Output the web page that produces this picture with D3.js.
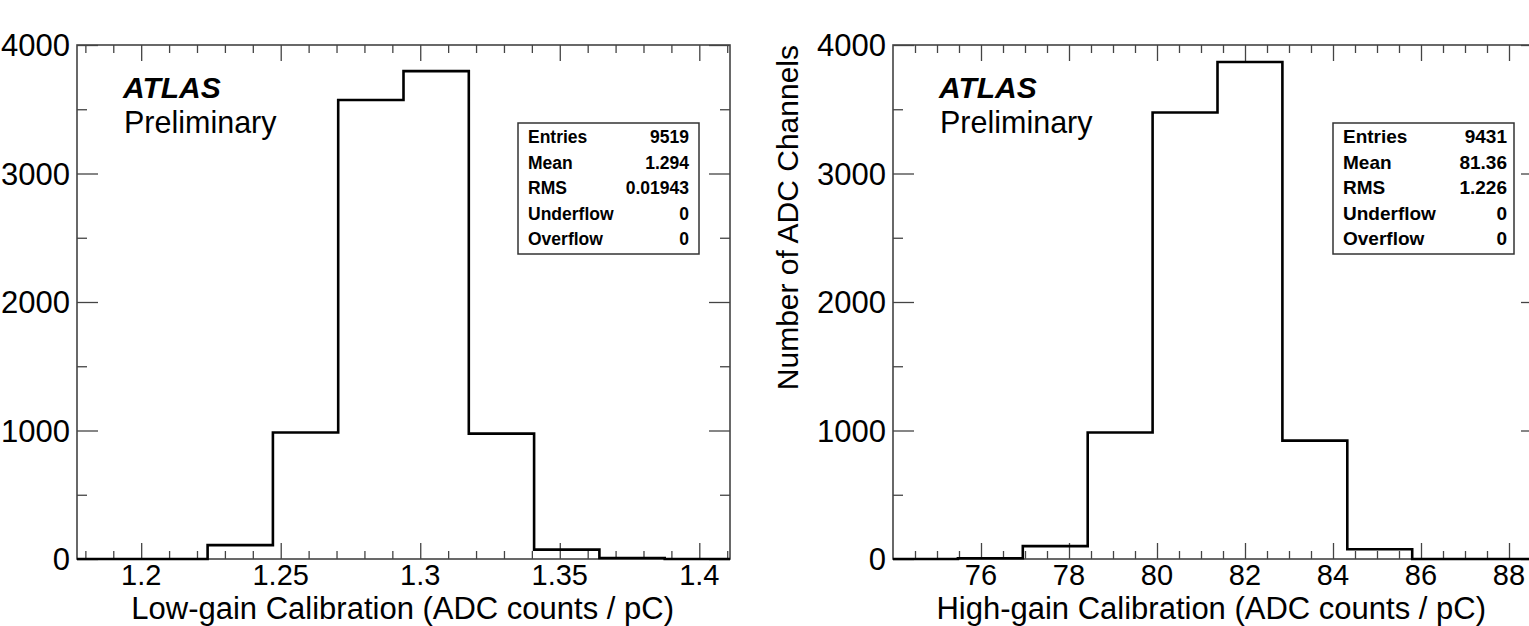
<!DOCTYPE html>
<html>
<head>
<meta charset="utf-8">
<script src="https://cdn.jsdelivr.net/npm/d3@7"></script>
<style>
  html, body { margin: 0; padding: 0; background: #fff; overflow: hidden; }
  svg { display: block; }
  text { font-family: "Liberation Sans", Arial, Helvetica, sans-serif; fill: #000; }
</style>
</head>
<body>
<svg id="chart" width="1529" height="626"></svg>
<script>
// ---------------- data ----------------
const lowRange = [1.177, 1.411];           // histogram range (10 bins)
const lowCounts = [0, 0, 108, 985, 3572, 3797, 976, 73, 8, 0];
const lowMajorTicks = [1.2, 1.25, 1.3, 1.35, 1.4];
const lowTickLabels = ["1.2", "1.25", "1.3", "1.35", "1.4"];
const lowTitle = "Low-gain Calibration (ADC counts / pC)";
const lowStats = [["Entries", "9519"], ["Mean", "1.294"], ["RMS", "0.01943"], ["Underflow", "0"], ["Overflow", "0"]];

const highRange = [74, 88.75];
const highCounts = [0, 6, 100, 985, 3475, 3868, 921, 76, 0, 0];
const highMajorTicks = [76, 78, 80, 82, 84, 86, 88];
const highTickLabels = ["76", "78", "80", "82", "84", "86", "88"];
const highTitle = "High-gain Calibration (ADC counts / pC)";
const highStats = [["Entries", "9431"], ["Mean", "81.36"], ["RMS", "1.226"], ["Underflow", "0"], ["Overflow", "0"]];

const yMajorTicks = [0, 1000, 2000, 3000, 4000];
const yMinorTicks = [500, 1500, 2500, 3500];
const yTitle = "Number of ADC Channels";

// ---------------- drawing ----------------
const svg = d3.select("#chart");
const frameColor = "#444";

function panel(opt) {
  const {x0, x1, y0, y1} = opt;
  const g = svg.append("g");
  const x = d3.scaleLinear().domain(opt.range).range([x0, x1]);
  const y = d3.scaleLinear().domain([0, 4000]).range([y1, y0]);

  const minorX = d3.range(opt.minorStart, opt.range[1] + 1e-9, opt.minorStep)
    .map(v => +v.toFixed(4))
    .filter(v => !opt.majorTicks.some(m => Math.abs(m - v) < 1e-6));

  const bottomMinor = d3.axisBottom(x).tickValues(minorX).tickSize(-8).tickFormat("");
  const bottomMajor = d3.axisBottom(x).tickValues(opt.majorTicks).tickSize(-16).tickFormat("");
  const topMinor = d3.axisTop(x).tickValues(minorX).tickSize(-8).tickFormat("");
  const topMajor = d3.axisTop(x).tickValues(opt.majorTicks).tickSize(-16).tickFormat("");
  const leftMinor = d3.axisLeft(y).tickValues(yMinorTicks).tickSize(-10).tickFormat("");
  const leftMajor = d3.axisLeft(y).tickValues(yMajorTicks).tickSize(-21).tickFormat("");
  const rightMinor = d3.axisRight(y).tickValues(yMinorTicks).tickSize(-10).tickFormat("");
  const rightMajor = d3.axisRight(y).tickValues(yMajorTicks).tickSize(-21).tickFormat("");

  const axes = [
    [bottomMinor, `translate(0,${y1})`], [bottomMajor, `translate(0,${y1})`],
    [topMinor, `translate(0,${y0})`], [topMajor, `translate(0,${y0})`],
    [leftMinor, `translate(${x0},0)`], [leftMajor, `translate(${x0},0)`],
    [rightMinor, `translate(${x1},0)`], [rightMajor, `translate(${x1},0)`]
  ];
  axes.forEach(([ax, tr]) => {
    const a = g.append("g").attr("transform", tr).call(ax);
    a.select(".domain").remove();
    a.selectAll(".tick line").attr("stroke", frameColor).attr("stroke-width", 1.3);
  });

  g.append("rect").attr("x", x0).attr("y", y0).attr("width", x1 - x0).attr("height", y1 - y0)
    .attr("fill", "none").attr("stroke", frameColor).attr("stroke-width", 1.6);

  const nb = opt.counts.length;
  const w = (opt.range[1] - opt.range[0]) / nb;
  const pts = opt.counts.map((c, i) => [opt.range[0] + i * w, c]);
  pts.push([opt.range[1], opt.counts[nb - 1]]);
  const line = d3.line().x(d => x(d[0])).y(d => y(d[1])).curve(d3.curveStepAfter);
  g.append("path").attr("d", line(pts)).attr("fill", "none")
    .attr("stroke", "#000").attr("stroke-width", 2.6).attr("stroke-linejoin", "miter");

  g.selectAll(".xl").data(opt.majorTicks).enter().append("text")
    .attr("x", d => x(d)).attr("y", 584.5).attr("text-anchor", "middle")
    .attr("font-size", 29).text((d, i) => opt.tickLabels[i]);

  g.selectAll(".yl").data(yMajorTicks).enter().append("text")
    .attr("x", x0 - 7).attr("y", d => y(d) + 11).attr("text-anchor", "end")
    .attr("font-size", 31).text(d => d);

  g.append("text").attr("x", x1 - 56).attr("y", 619).attr("text-anchor", "end")
    .attr("font-size", 31).text(opt.title);

  g.append("text").attr("x", x0 + 46).attr("y", 98).attr("font-size", 30)
    .attr("font-weight", "bold").attr("font-style", "italic").text("ATLAS");
  g.append("text").attr("x", x0 + 47).attr("y", 133).attr("font-size", 30.5).text("Preliminary");

  const b = opt.box;
  g.append("rect").attr("x", b.x).attr("y", 123).attr("width", b.w).attr("height", 131)
    .attr("fill", "#fff").attr("stroke", "#333").attr("stroke-width", 1.5);
  const rowsY = [143, 169, 194, 220, 245];
  opt.stats.forEach((s, i) => {
    g.append("text").attr("x", b.x + b.padL).attr("y", rowsY[i]).attr("font-size", b.fs)
      .attr("font-weight", "bold").text(s[0]);
    g.append("text").attr("x", b.x + b.w - b.padR).attr("y", rowsY[i]).attr("font-size", b.fs)
      .attr("font-weight", "bold").attr("text-anchor", "end").text(s[1]);
  });
  return {x, y};
}

panel({
  x0: 77, x1: 730, y0: 45, y1: 559, range: lowRange, counts: lowCounts,
  majorTicks: lowMajorTicks, tickLabels: lowTickLabels, minorStart: 1.18, minorStep: 0.01,
  title: lowTitle, stats: lowStats, box: {x: 518, w: 181, padL: 10, padR: 10, fs: 17.5}
});

panel({
  x0: 893, x1: 1542, y0: 45, y1: 559, range: highRange, counts: highCounts,
  majorTicks: highMajorTicks, tickLabels: highTickLabels, minorStart: 74.5, minorStep: 0.5,
  title: highTitle, stats: highStats, box: {x: 1333, w: 181, padL: 10, padR: 7, fs: 19}
});

svg.append("text").attr("transform", "translate(798,45) rotate(-90)")
  .attr("text-anchor", "end").attr("font-size", 30).text(yTitle);
</script>
</body>
</html>
